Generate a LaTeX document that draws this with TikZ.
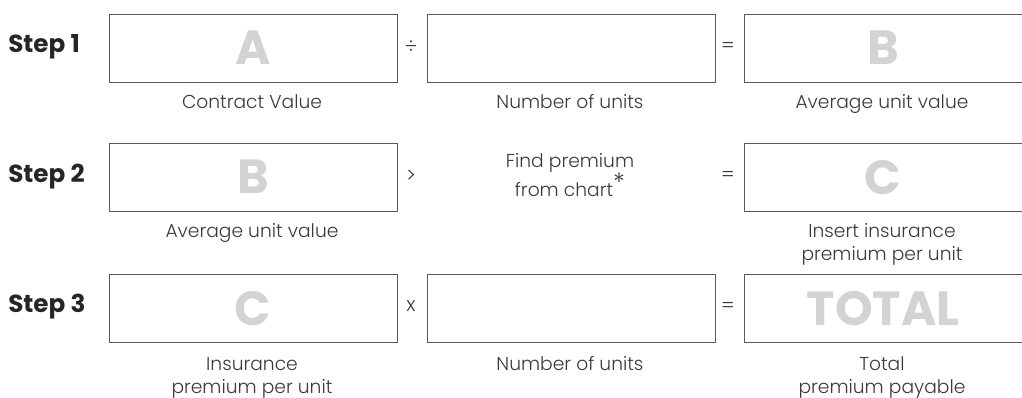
\documentclass[tikz,border=0pt]{standalone}
\usepackage{fontspec}
\setmainfont{Poppins}[UprightFont=* Light,BoldFont=* Bold]
\begin{document}
\begin{tikzpicture}[x=0.75pt,y=-0.75pt,
  box/.style={draw=boxgray,line width=0.9pt,minimum width=216pt,minimum height=51pt,inner sep=0pt,anchor=north west},
  rbox/.style={box,minimum width=208.5pt},
  big/.style={text=lettergray,font=\fontsize{36}{36}\selectfont\bfseries},
  lbl/.style={text=txtgray,font=\fontsize{14}{17.25}\selectfont,align=center,anchor=base,inner sep=0pt},
  op/.style={text=txtgray,font=\fontsize{15}{15}\selectfont},
  steplbl/.style={text=black!85,font=\fontsize{18.5}{20}\selectfont\bfseries,anchor=west,inner sep=0pt}]
\definecolor{boxgray}{HTML}{5A5A5A}
\definecolor{lettergray}{HTML}{D3D3D5}
\definecolor{txtgray}{HTML}{3A3A3A}
\useasboundingbox (0,0) rectangle (1022,397);
% Step 1
\node[steplbl] (s1) at (8,47) {Step 1};
\node[box] (a1) at (108.5,13.5) {};
\node[box] (n1) at (426.5,13.5) {};
\node[rbox] (b1) at (743.5,13.5) {};
\node[big] (A1) at (a1.center) {A};
\node[big] at (b1.center) {B};
\node[op] (o1) at (411,47) {÷};
\node[op] (e1) at (728,47) {=};
\node[lbl] (la1) at (252,108) {Contract Value};
\node[lbl] (ln1) at (570,108) {Number of units};
\node[lbl] (lb1) at (882,108) {Average unit value};
% Step 2
\node[steplbl] (s2) at (8,177) {Step 2};
\node[box] (a2) at (108.5,142.5) {};
\node[rbox] (c2) at (743.5,142.5) {};
\node[big] at (a2.center) {B};
\node[big] at (c2.center) {C};
\node[op] (o2) at (411,176) {>};
\node[op] (e2) at (728,176) {=};
\node[lbl] (f2) at (570,196) {Find premium\\from chart\raisebox{0.4ex}{\fontsize{19}{19}\selectfont*}};
\node[lbl] (la2) at (252,237) {Average unit value};
\node[lbl] (lc2) at (882,260) {Insert insurance\\premium per unit};
% Step 3
\node[steplbl] (s3) at (8,307) {Step 3};
\node[box] (a3) at (108.5,273.5) {};
\node[box] (n3) at (426.5,273.5) {};
\node[rbox] (t3) at (743.5,273.5) {};
\node[big] at (a3.center) {C};
\node[big] at (t3.center) {TOTAL};
\node[op] (o3) at (411,306) {x};
\node[op] (e3) at (728,307) {=};
\node[lbl] (la3) at (252,393) {Insurance\\premium per unit};
\node[lbl] (ln3) at (570,370) {Number of units};
\node[lbl] (lt3) at (882,393) {Total\\premium payable};
\end{tikzpicture}
\end{document}
